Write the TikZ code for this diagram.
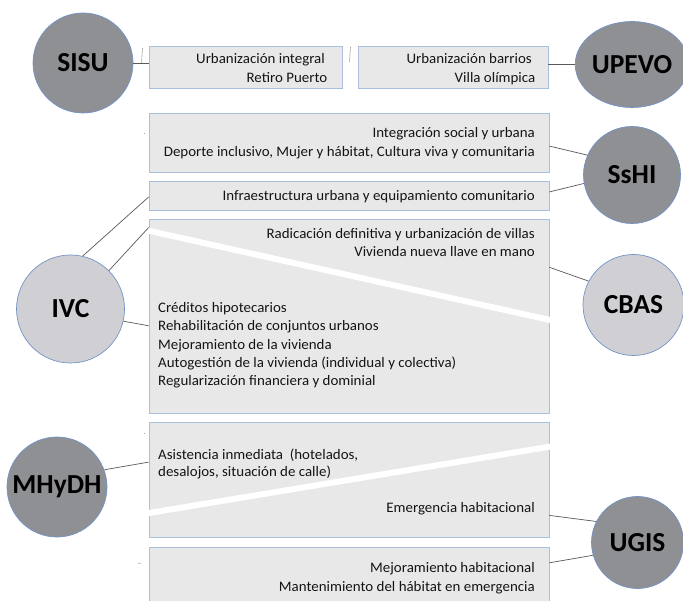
\documentclass[tikz,border=0pt]{standalone}
\usepackage{fontspec}
\setmainfont{Carlito}[FakeStretch=1.03]
\newfontfamily\labelfont{Carlito}
\usetikzlibrary{calc,shapes.geometric}
\definecolor{boxfill}{HTML}{E8E8E8}
\definecolor{boxline}{HTML}{A8C0DD}
\definecolor{darkc}{HTML}{8F9094}
\definecolor{lightc}{HTML}{D0D0D4}
\definecolor{ringc}{HTML}{7393C8}
\definecolor{linkc}{HTML}{595959}
\definecolor{txt}{HTML}{141414}
\tikzset{
  panel/.style={rectangle, draw=boxline, fill=boxfill, line width=0.8pt, inner sep=0pt},
  agency/.style={circle, draw=ringc, line width=0.7pt, inner sep=0pt, text=black,
     font=\labelfont\fontsize{27.5}{30}\selectfont\bfseries},
  darkag/.style={agency, fill=darkc},
  lightag/.style={agency, fill=lightc},
  item/.style={inner sep=0pt, text=txt, font=\fontsize{14.5}{16}\selectfont},
  itemR/.style={item, anchor=base east},
  itemL/.style={item, anchor=base west},
  link/.style={draw=linkc, line width=0.7pt},
  gap/.style={draw=white, line width=6pt, shorten <=-1.5pt, shorten >=-1.5pt},
  tick/.style={draw=gray!70, line width=0.6pt}
}
\begin{document}
\begin{tikzpicture}[x=1pt,y=-1pt]
\clip (0,0) rectangle (683,601);
\fill[white] (0,0) rectangle (683,601);

% panels
\node[panel, minimum width=193pt, minimum height=42pt] (boxA) at (245.5,67) {};
\node[panel, minimum width=190pt, minimum height=42pt] (boxB) at (453,67) {};
\node[panel, minimum width=400pt, minimum height=59pt] (boxC) at (349,142.5) {};
\node[panel, minimum width=400pt, minimum height=29pt] (boxD) at (349,195.5) {};
\node[panel, minimum width=400pt, minimum height=194pt] (boxE) at (349,316) {};
\node[panel, minimum width=400pt, minimum height=115pt] (boxF) at (349,479.5) {};
\node[panel, minimum width=400pt, minimum height=63pt] (boxG) at (349,578.5) {};

% white gaps across panels
\draw[gap] ($(boxE.north west)!0.062!(boxE.south west)$) -- ($(boxE.north east)!0.52!(boxE.south east)$);
\draw[gap] ($(boxF.north west)!0.79!(boxF.south west)$) -- ($(boxF.north east)!0.217!(boxF.south east)$);

% agencies
\node[darkag, minimum size=100pt] (sisu) at (83,63) {SISU};
\node[darkag, ellipse, minimum width=92pt, minimum height=86pt] (upevo) at (632,64.5) {UPEVO};
\node[darkag, minimum size=97pt] (sshi) at (632,175) {SsHI};
\node[lightag, minimum size=108pt] (ivc) at (70.5,309) {IVC};
\node[lightag, minimum size=101pt] (cbas) at (633.5,305) {CBAS};
\node[darkag, minimum size=100pt] (mhydh) at (57,487) {MHyDH};
\node[darkag, minimum size=92pt] (ugis) at (637.5,542.5) {UGIS};

% texts
\node[itemR] (a1) at (325,64) {Urbanización integral};
\node[itemR] (a2) at (327.5,82.5) {Retiro Puerto};
\node[itemR] (b1) at (532,64) {Urbanización barrios};
\node[itemR] (b2) at (535.5,82.5) {Villa olímpica};
\node[itemR] (c1) at (535,137.5) {Integración social y urbana};
\node[itemR] (c2) at (535,156.5) {Deporte inclusivo, Mujer y hábitat, Cultura viva y comunitaria};
\node[itemR] (d1) at (535,200.5) {Infraestructura urbana y equipamiento comunitario};
\node[itemR] (e1) at (535,238.5) {Radicación definitiva y urbanización de villas};
\node[itemR] (e2) at (535,256.5) {Vivienda nueva llave en mano};
\node[itemL] (e3) at (158,312.5) {Créditos hipotecarios};
\node[itemL] (e4) at (158,331) {Rehabilitación de conjuntos urbanos};
\node[itemL] (e5) at (158,349.5) {Mejoramiento de la vivienda};
\node[itemL] (e6) at (158,367.5) {Autogestión de la vivienda (individual y colectiva)};
\node[itemL] (e7) at (158,386) {Regularización financiera y dominial};
\node[itemL] (f1) at (158,459.5) {Asistencia inmediata~ (hotelados,};
\node[itemL] (f2) at (158,477) {desalojos, situación de calle)};
\node[itemR] (f3) at (535,512.5) {Emergencia habitacional};
\node[itemR] (g1) at (535,572.5) {Mejoramiento habitacional};
\node[itemR] (g2) at (535,591) {Mantenimiento del hábitat en emergencia};

% connectors
\draw[link] (sisu.east) -- (boxA.west |- sisu.east);
\draw[link] (upevo.west) -- (boxB.east |- upevo.west);
\draw[link] (sshi.156) -- ($(boxC.north east)!0.56!(boxC.south east)$);
\draw[link] (sshi.190) -- ($(boxD.north east)!0.38!(boxD.south east)$);
\draw[link] (ivc.77) -- ($(boxD.north west)!0.55!(boxD.south west)$);
\draw[link] (ivc.45) -- ($(boxE.north west)!0.046!(boxE.south west)$);
\draw[link] (ivc.-13) -- ($(boxE.north west)!0.55!(boxE.south west)$);
\draw[link] (cbas.152) -- ($(boxE.north east)!0.25!(boxE.south east)$);
\draw[link] (mhydh.20) -- ($(boxF.north west)!0.35!(boxF.south west)$);
\draw[link] (ugis.153) -- ($(boxF.north east)!0.81!(boxF.south east)$);
\draw[link] (ugis.196) -- ($(boxG.north east)!0.254!(boxG.south east)$);

% small stray marks
\coordinate (m1a) at (142.5,48); \coordinate (m1b) at (141.5,63);
\coordinate (m2a) at (350.5,47); \coordinate (m2b) at (349.5,62);
\draw[tick] (m1a) -- (m1b);
\draw[tick] (m2a) -- (m2b);
\coordinate (m3a) at (143.5,133); \coordinate (m3b) at (144.5,133);
\coordinate (m4a) at (143.5,433); \coordinate (m4b) at (144.5,433);
\coordinate (m5a) at (138,563.5); \coordinate (m5b) at (141,563);
\draw[tick] (m3a) -- (m3b);
\draw[tick] (m4a) -- (m4b);
\draw[tick, draw=ringc!70] (m5a) -- (m5b);
\end{tikzpicture}
\end{document}
